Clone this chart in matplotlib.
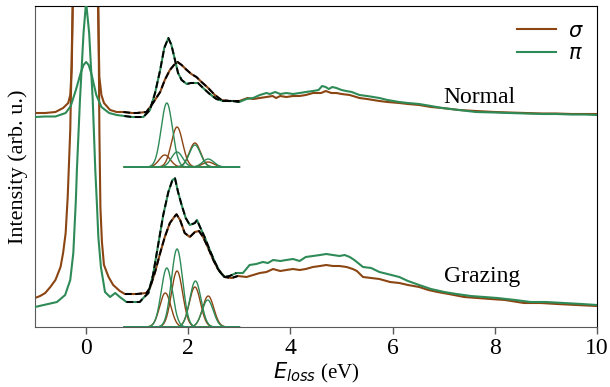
import numpy as np
import matplotlib
matplotlib.use("Agg")
import matplotlib.pyplot as plt

plt.rcParams['font.family'] = ['Liberation Serif', 'DejaVu Serif']
plt.rcParams['mathtext.fontset'] = 'dejavusans'

BROWN = '#8B4513'
GREEN = '#2E8B57'

# ---------------- data ----------------
# Normal geometry, pi (green)
ng_x = [-1.0, -0.8, -0.6, -0.4, -0.3, -0.2, -0.1, -0.05, 0.0, 0.05, 0.1, 0.2, 0.3, 0.45, 0.6, 0.75, 0.9,
        1.0, 1.12, 1.25, 1.35, 1.45, 1.53, 1.61, 1.67, 1.74, 1.80, 1.87, 1.97, 2.05, 2.10, 2.19, 2.29,
        2.42, 2.55, 2.68, 2.87, 3.0, 3.14, 3.27, 3.4, 3.53, 3.6, 3.7, 3.8, 3.92, 4.05, 4.18, 4.3, 4.44,
        4.55, 4.62, 4.69, 4.75, 4.82, 4.9, 5.0, 5.09, 5.2, 5.35, 5.5, 5.74, 5.9, 6.13, 6.3, 6.52, 6.75,
        6.97, 7.3, 7.63, 8.0, 8.28, 8.6, 8.93, 9.2, 9.5, 9.75, 10.0]
ng_y = [210, 210.5, 210.5, 214, 221, 237, 255, 262, 265, 262, 254, 232, 220, 214, 212, 211, 210,
        210, 210, 217, 234, 257, 279, 289, 282, 267, 254, 247, 243, 244, 244, 244, 239,
        233, 228, 226, 226, 225, 228, 229, 232, 234, 233, 235, 233, 234, 233, 234, 235, 236,
        237, 241, 240, 238, 240, 239, 237, 236, 235, 232, 231, 229, 227, 225, 224, 223, 221,
        219, 217, 215, 214.5, 214, 213.5, 213, 213, 212.5, 212.5, 212]

# Normal geometry, sigma (brown)
nb_x = [-1.0, -0.8, -0.6, -0.45, -0.35, -0.31, -0.28, -0.26, -0.2, -0.1, 0.0, 0.1, 0.18, 0.23, 0.26,
        0.3, 0.35, 0.47, 0.6, 0.73, 0.9, 0.99, 1.18, 1.31, 1.45, 1.54, 1.64, 1.72, 1.79, 1.87, 1.97,
        2.06, 2.16, 2.26, 2.39, 2.52, 2.65, 2.81, 3.0, 3.16, 3.27, 3.4, 3.53, 3.65, 3.72, 3.8, 3.92,
        4.05, 4.18, 4.3, 4.44, 4.6, 4.69, 4.8, 4.9, 5.0, 5.16, 5.35, 5.5, 5.74, 5.9, 6.13, 6.3, 6.52,
        6.75, 6.97, 7.3, 7.63, 8.0, 8.28, 8.6, 8.93, 9.2, 9.5, 9.75, 10.0]
nb_y = [214, 214, 215, 219, 224, 232, 260, 327, 480, 620, 660, 620, 450, 327, 250,
        232, 224, 217, 215, 215, 214, 214, 215, 224, 235, 247, 257, 262, 265, 262, 257,
        253, 250, 245, 239, 232, 227, 226, 226, 229, 228, 229, 230, 231, 229, 231, 230,
        231, 231, 232, 234, 234, 236, 234, 234, 233, 232, 229, 228, 226, 225, 224, 223, 222,
        220, 219, 217, 216, 215, 214.5, 214, 213.5, 213.5, 213, 213, 213]

# Grazing geometry, pi (green)
gg_x = [-1.0, -0.83, -0.57, -0.41, -0.31, -0.25, -0.2, -0.18, -0.12, -0.05, 0.0, 0.06, 0.13, 0.18,
        0.21, 0.24, 0.29, 0.37, 0.47, 0.57, 0.66, 0.79, 0.9, 1.05, 1.12, 1.22, 1.31, 1.41, 1.51, 1.61,
        1.69, 1.74, 1.80, 1.87, 1.95, 2.03, 2.13, 2.17, 2.23, 2.32, 2.42, 2.52, 2.62, 2.71, 2.81, 2.94,
        3.07, 3.2, 3.33, 3.46, 3.56, 3.66, 3.8, 3.92, 4.05, 4.18, 4.3, 4.44, 4.58, 4.7, 4.83, 4.96,
        5.06, 5.16, 5.25, 5.42, 5.58, 5.74, 5.9, 6.13, 6.3, 6.52, 6.75, 7.01, 7.25, 7.53, 8.05, 8.4,
        8.7, 9.0, 9.35, 9.7, 10.0]
gg_y = [20, 22, 25, 32, 47, 74, 127, 157, 227, 294, 325, 294, 227, 157,
        125, 90, 60, 35, 30, 34, 30, 25, 25, 25, 29, 34, 52, 82, 112, 135,
        147, 148.7, 135, 122, 109, 102, 104, 107, 100, 90, 77, 65, 55, 50, 51, 54,
        54, 62, 63, 65, 64, 67, 66, 67, 68, 66, 70, 71, 72, 73, 72, 71,
        72, 70, 67, 60, 59, 55, 53, 50, 46, 42, 38, 35, 33, 31, 29, 27,
        25, 25, 24, 23, 22]

# Grazing geometry, sigma (brown)
gb_x = [-1.0, -0.9, -0.8, -0.7, -0.6, -0.5, -0.45, -0.4, -0.36, -0.34, -0.31, -0.26, -0.2, -0.1,
        0.0, 0.1, 0.2, 0.24, 0.26, 0.28, 0.31, 0.35, 0.44, 0.53, 0.66, 0.76, 0.86, 0.99, 1.18, 1.25,
        1.35, 1.45, 1.54, 1.64, 1.74, 1.77, 1.84, 1.93, 2.03, 2.13, 2.21, 2.29, 2.39, 2.49, 2.58, 2.71,
        2.85, 2.97, 3.14, 3.27, 3.4, 3.53, 3.66, 3.8, 3.92, 4.05, 4.18, 4.3, 4.44, 4.58, 4.7, 4.83,
        4.96, 5.1, 5.22, 5.3, 5.42, 5.58, 5.74, 5.95, 6.13, 6.3, 6.52, 6.7, 6.88, 7.1, 7.4, 7.92,
        8.2, 8.57, 8.9, 9.22, 9.6, 10.0]
gb_y = [29, 31, 34, 40, 47, 60, 74, 94, 130, 157, 197, 327, 600, 850,
        950, 850, 520, 327, 197, 120, 85, 62, 50, 42, 36, 33, 33, 33, 34, 39,
        55, 74, 90, 104, 111, 112.7, 107, 94, 90, 95, 96, 90, 79, 67, 58, 50,
        49, 51, 50, 52, 54, 55, 58, 56, 57, 58, 57, 58, 60, 61, 62, 61,
        61, 60, 58, 56, 50, 49, 48, 45, 44, 42, 40, 37, 35, 33, 30, 28,
        27, 24, 24, 23, 22, 21]

# Gaussian fit components: centres (eV), amplitudes, widths (eV)
n_pi_cen = [1.58, 1.78, 2.13, 2.39]
n_pi_amp = [64, 15, 22, 8]
n_sig_cen = [1.54, 1.78, 2.13, 2.39]
n_sig_amp = [12, 40, 24, 5]
g_pi_cen = [1.58, 1.78, 2.14, 2.38]
g_pi_amp = [59, 78, 46, 27]
g_sig_cen = [1.55, 1.78, 2.13, 2.39]
g_sig_amp = [34, 56, 40, 31]
comp_width = [0.11, 0.11, 0.11, 0.11]
normal_comp_offset = 160
fit_range = (0.72, 3.0)

x_ticks = [0, 2, 4, 6, 8, 10]

# ---------------- figure ----------------
fig = plt.figure(figsize=(6.10, 3.87), dpi=100)
ax = fig.add_axes([35 / 610, 60 / 387, 562 / 610, 321 / 387])

lw = 1.5
ax.plot(nb_x, nb_y, color=BROWN, lw=lw, label=r'$\sigma$', zorder=2)
ax.plot(ng_x, ng_y, color=GREEN, lw=lw, label=r'$\pi$', zorder=3)
ax.plot(gb_x, gb_y, color=BROWN, lw=lw, zorder=2)
ax.plot(gg_x, gg_y, color=GREEN, lw=lw, zorder=3)

# fits (dashed black) over the fit window
for xs, ys in [(nb_x, nb_y), (ng_x, ng_y), (gb_x, gb_y), (gg_x, gg_y)]:
    xs = np.asarray(xs); ys = np.asarray(ys, dtype=float)
    m = (xs >= fit_range[0]) & (xs <= fit_range[1])
    ax.plot(xs[m], ys[m], color='black', lw=1.4, ls=(0, (3.5, 1.8)), zorder=4)

# components
xc = np.linspace(0.75, 3.0, 400)
def comps(cens, amps, off, color, z):
    for c, a, w in zip(cens, amps, comp_width):
        ax.plot(xc, off + a * np.exp(-(xc - c) ** 2 / (2 * w ** 2)), color=color, lw=1.0, zorder=z)

comps(n_sig_cen, n_sig_amp, normal_comp_offset, BROWN, 2)
comps(n_pi_cen, n_pi_amp, normal_comp_offset, GREEN, 3)
comps(g_sig_cen, g_sig_amp, 0, BROWN, 2)
comps(g_pi_cen, g_pi_amp, 0, GREEN, 3)

ax.text(7.0, 224, 'Normal', fontsize=17, ha='left', va='baseline')
ax.text(7.0, 45, 'Grazing', fontsize=17, ha='left', va='baseline')

ax.set_xlim(-1, 10)
ax.set_ylim(0, 321)
ax.set_xticks(x_ticks)
ax.set_yticks([])
ax.tick_params(axis='x', labelsize=17, direction='out', length=5, color='0.35', width=1, pad=3)
ax.set_xlabel(r'$E_{loss}$ (eV)', fontsize=15, labelpad=1)
ax.set_ylabel('Intensity (arb. u.)', fontsize=16)
ax.yaxis.set_label_coords(-0.013, 0.5)
for s in ['left', 'bottom']:
    ax.spines[s].set_color('0.35')
for s in ['top', 'right']:
    ax.spines[s].set_color('black')

leg = ax.legend(loc='upper right', frameon=False, fontsize=15, handlelength=1.85,
                handletextpad=0.6, labelspacing=0.15, borderpad=0, borderaxespad=0,
                bbox_to_anchor=((584 - 35) / 562, (327 - 22) / 321))

fig.savefig('out.png', dpi=100)
